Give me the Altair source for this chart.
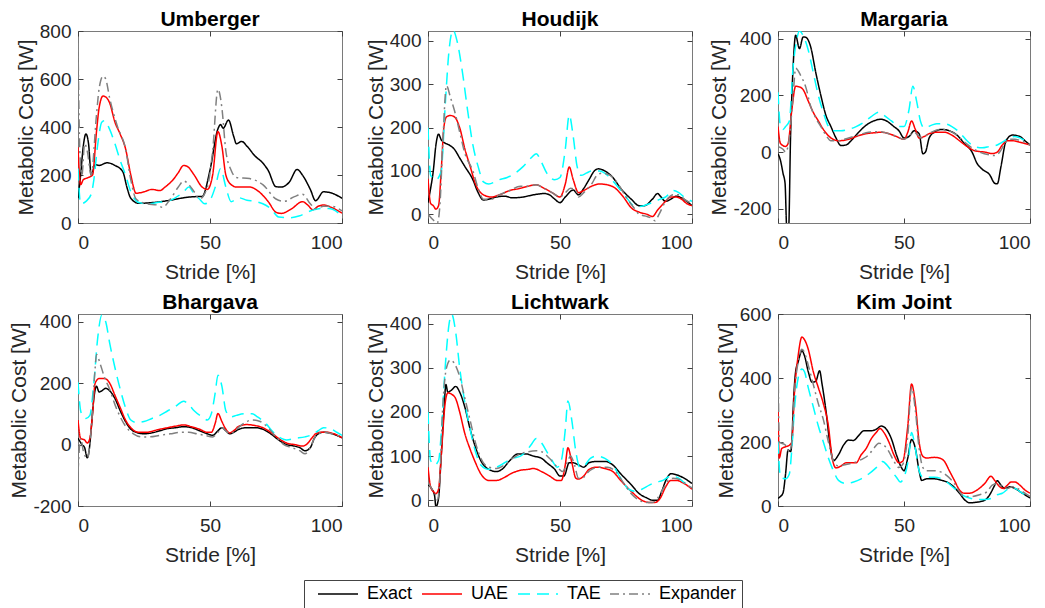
import altair as alt
import pandas as pd

SERIES = ["Exact", "UAE", "TAE", "Expander"]
COLORS = ["#000000", "#ff0000", "#00ffff", "#808080"]
DASHES = [[1, 0], [1, 0], [12, 7], [9, 4, 2, 4]]
X_TICKS = [0, 50, 100]

# ---------------- Umberger ----------------
UMBERGER_EXACT = [(0,103),(1,200),(2,320),(3,371),(4,330),(5,200),(6.5,243),(8,240),(11,251),(14,240),(17,213),(18.5,150),(20,103),(23,82),(28,85),(35,95),(40,105),(45,110),(47,110),(50,220),(53,392),(54,410),(55,395),(57,429),(59,360),(60,330),(62,340),(64,320),(67,280),(70,250),(72,220),(75,151),(77,150),(80,170),(83,223),(85,200),(88,140),(90,93),(93,130),(96,125),(100,103)]
UMBERGER_UAE = [(0,316),(1,160),(2,180),(4,190),(5.5,200),(7,380),(8,480),(9.5,529),(10.5,525),(12,500),(14,420),(16,370),(18,310),(20,200),(22,124),(25,130),(28,140),(31,135),(33,150),(36,180),(38,210),(40,240),(41.5,235),(44,200),(47,150),(49,140),(51,200),(53,381),(54.5,320),(56,200),(58,160),(60,150),(65,150),(68,135),(72,90),(75,45),(77,40),(81,60),(85,89),(87,75),(89,55),(91,70),(93,75),(96,65),(100,41)]
UMBERGER_TAE = [(0,227),(1,80),(3,90),(5,120),(6,180),(7.5,330),(9,420),(10,426),(12,390),(14,330),(16,260),(18,200),(20,130),(23,85),(27,80),(30,85),(35,95),(40,130),(42,150),(44,120),(46,100),(48,80),(50,95),(52,150),(54,227),(56,150),(58,89),(61,105),(64,95),(67,90),(70,80),(73,60),(76,25),(80,22),(84,30),(88,50),(92,60),(95,60),(100,30)]
UMBERGER_EXP = [(0,750),(0.7,300),(1.5,200),(2.5,330),(3.5,300),(5,200),(7,450),(8,560),(9.5,612),(10.5,600),(12,520),(15,400),(18,310),(20,180),(22,100),(26,80),(30,75),(32,65),(35,100),(38,150),(40,175),(42,160),(44,130),(46,100),(49,150),(51,300),(53,557),(54.5,480),(56,300),(58,220),(60,190),(65,185),(70,160),(75,100),(78,90),(82,110),(85,120),(88,80),(90,60),(93,70),(96,70),(100,50)]

# ---------------- Houdijk ----------------
HOUDIJK_EXACT = [(0,27),(1,60),(2,100),(3,160),(4,185),(5,172),(6,166),(8,160),(10,150),(12,130),(14,110),(17,80),(19,50),(21,33),(23,35),(26,40),(29,42),(32,38),(36,40),(40,45),(44,48),(46,45),(48,35),(50,27),(52,40),(55,56),(57,45),(59,60),(61,80),(63,100),(64.5,105),(67,100),(70,85),(73,60),(77,35),(80,20),(82,20),(85,35),(87,48),(88,42),(90,30),(92,35),(94,42),(96,38),(98,30),(100,20)]
HOUDIJK_UAE = [(0,82),(1,25),(2,20),(3,12),(4,20),(5,100),(6,200),(7,225),(8.5,228),(10,225),(12,200),(14,150),(16,110),(18,70),(21,45),(24,40),(27,45),(31,55),(35,60),(38,65),(41,68),(44,60),(47,50),(50,40),(52,70),(53.5,109),(55,80),(57,50),(59,55),(62,65),(65,70),(68,68),(71,60),(74,40),(77,15),(80,5),(83,0),(85,-5),(87,10),(90,30),(92,40),(94,40),(96,35),(98,25),(100,20)]
HOUDIJK_TAE = [(0,200),(1,90),(3,80),(5,100),(6.5,250),(8,380),(9.5,425),(11,400),(13,330),(15,240),(17,160),(19,110),(21,75),(23,70),(27,80),(30,85),(33,95),(36,110),(39,130),(41,140),(43,120),(45,95),(48,80),(50,85),(52,150),(53.5,229),(55,180),(56.5,110),(58,90),(60,95),(62,100),(65,100),(68,90),(71,70),(75,40),(78,20),(80,18),(84,25),(88,35),(90,40),(93,55),(95,50),(97,40),(100,30)]
HOUDIJK_EXP = [(0,0),(1.5,-10),(3.5,-20),(4.5,20),(5.5,150),(7,297),(8.5,270),(10,240),(12,190),(14,140),(17,100),(19,60),(21,35),(24,35),(27,45),(31,55),(35,65),(38,65),(41,68),(44,60),(47,50),(50,40),(52,50),(54,60),(56,55),(57,40),(59,50),(62,70),(64,90),(66,95),(69,90),(72,70),(75,40),(78,15),(80,0),(83,-5),(85,-10),(86,-15),(87.5,0),(90,30),(93,45),(95,45),(97,35),(100,25)]

# ---------------- Margaria ----------------
MARGARIA_EXACT = [(0,-6),(1,-30),(2,-75),(2.8,-110),(3.5,-270),(4.2,-270),(5,60),(6,301),(7,412),(8.5,365),(10,406),(11,405),(13,370),(15,280),(17,200),(19,130),(21,90),(23,50),(25,23),(27,25),(29,40),(32,70),(35,95),(38,110),(41,116),(43,110),(46,90),(48,75),(50,50),(52,55),(54,75),(56,65),(57.5,-6),(58.5,0),(60,50),(62,70),(65,80),(68,75),(71,60),(74,30),(77,0),(79,-40),(81,-60),(84,-80),(86,-110),(87,-112),(88.5,-50),(90.5,40),(93,60),(96,55),(98,40),(100,25)]
MARGARIA_UAE = [(0,90),(1,30),(3,20),(4,30),(5.5,150),(7,232),(8.5,230),(10,220),(12,180),(14,140),(16,110),(18,80),(21,50),(24,40),(28,45),(31,55),(35,65),(38,68),(41,70),(44,65),(47,55),(50,45),(51.5,70),(53,110),(54.5,80),(56,50),(58,55),(60,65),(63,70),(66,70),(69,60),(72,40),(75,20),(78,5),(82,0),(85,-5),(87,0),(89,25),(91,40),(93,40),(96,35),(100,25)]
MARGARIA_TAE = [(0,211),(1,90),(2,80),(3,90),(4.5,110),(6,300),(7.5,400),(8.5,427),(10,410),(12,360),(14,280),(16,200),(18,140),(20,90),(22,75),(25,75),(28,80),(31,90),(34,105),(37,125),(40,141),(42,130),(45,110),(48,90),(50,90),(52,150),(53.5,232),(55,180),(56.5,110),(58,85),(61,95),(63,100),(66,100),(69,90),(72,70),(75,40),(78,20),(81,15),(84,20),(87,25),(89,35),(92,50),(94,55),(96,50),(98,40),(100,30)]
MARGARIA_EXP = [(0,20),(2,10),(3,0),(4.5,50),(6,200),(7,296),(9,270),(11,230),(13,160),(15,120),(17,90),(19,60),(21,40),(24,40),(28,50),(32,60),(36,70),(40,72),(44,65),(47,55),(50,45),(52,55),(54,70),(55.5,60),(57,50),(59,60),(62,75),(65,80),(68,75),(71,60),(74,35),(77,15),(80,0),(84,-10),(86,-12),(88,0),(90,30),(92,45),(94,45),(97,38),(100,25)]

# ---------------- Bhargava ----------------
BHARGAVA_EXACT = [(0,21),(1.5,0),(2.5,-10),(3.5,-43),(4.2,-20),(5,50),(6,150),(7,190),(8,171),(9,175),(10.5,183),(12,175),(14,150),(16,110),(18,75),(20,50),(22,40),(25,35),(28,38),(31,45),(34,52),(37,55),(40,58),(43,55),(46,45),(49,35),(51,30),(53,45),(54.5,55),(56,45),(57.5,35),(59,40),(61,50),(64,55),(67,55),(70,50),(73,35),(76,15),(79,0),(82,-5),(84,-10),(86,-20),(88,-10),(89.5,20),(91,35),(93,40),(95,38),(98,30),(100,22)]
BHARGAVA_UAE = [(0,80),(1,20),(2.5,15),(3.5,5),(4.5,20),(5.5,100),(6.5,200),(8,215),(10,215),(12,200),(14,160),(16,120),(18,80),(20,55),(23,40),(26,40),(30,48),(34,55),(37,60),(40,64),(43,58),(46,50),(49,40),(50.5,40),(52,70),(53,101),(54.5,75),(56,50),(57.5,38),(59,45),(61,60),(64,65),(67,62),(70,55),(73,40),(76,20),(79,5),(82,0),(85,-5),(86.5,0),(88.5,20),(90,35),(92,40),(94,40),(97,35),(100,22)]
BHARGAVA_TAE = [(0,203),(1,110),(2,90),(3,85),(4.5,95),(6,200),(7.5,350),(9,421),(10.5,400),(12,330),(14,250),(16,180),(18,120),(20,80),(22,72),(25,75),(28,85),(31,95),(34,110),(37,125),(40,141),(42,130),(44,110),(47,90),(49,80),(50.5,100),(52,170),(53,226),(54.5,190),(56,110),(58,90),(60,95),(63,100),(66,100),(68,90),(71,70),(74,40),(77,20),(79,15),(82,20),(86,25),(88,30),(91,45),(93,55),(96,50),(98,40),(100,30)]
BHARGAVA_EXP = [(0,-90),(1,20),(2,-20),(3.5,-45),(5,50),(6.5,250),(7,293),(8.5,260),(10,220),(12,180),(14,130),(16,90),(18,60),(21,35),(24,25),(27,25),(31,30),(35,35),(39,40),(42,40),(45,35),(48,30),(51,25),(53,40),(54.5,55),(56,45),(57.5,35),(60,50),(63,70),(66,80),(69,75),(72,55),(75,25),(78,0),(81,-10),(84,-20),(86,-30),(88,-10),(89.5,20),(91,35),(93,40),(96,35),(100,25)]

# ---------------- Lichtwark ----------------
LICHTWARK_EXACT = [(0,35),(1.5,25),(2.5,10),(3,-15),(4,5),(5,100),(6,200),(6.8,262),(7.5,245),(9,250),(10.5,258),(12,245),(14,210),(16,160),(18,120),(20,90),(23,70),(26,65),(28,70),(31,90),(34,105),(37,105),(40,100),(43,95),(45,85),(48,70),(50,55),(51.5,55),(53.5,85),(55,85),(57,80),(59,75),(61,85),(64,88),(67,88),(70,80),(73,60),(77,35),(80,15),(83,5),(85,0),(87,0),(88.5,20),(90.5,50),(92,60),(94,58),(97,50),(100,38)]
LICHTWARK_UAE = [(0,75),(1,30),(2,20),(3,15),(4,25),(5,100),(6.5,220),(7.5,243),(9,240),(10.5,230),(12,200),(14,150),(16,115),(18,85),(20,60),(23,45),(26,45),(29,52),(32,62),(35,68),(38,70),(40,72),(43,65),(46,55),(49,45),(50.5,45),(52,80),(53,119),(54.5,85),(56,50),(57,48),(59,55),(61,70),(64,75),(67,72),(70,65),(73,45),(77,20),(81,0),(84,-5),(86,-5),(88,5),(90,30),(92,45),(94,45),(97,38),(100,25)]
LICHTWARK_TAE = [(0,200),(1,90),(2.5,80),(4,90),(5,150),(6.5,300),(8,400),(9,421),(10.5,380),(12,300),(14,220),(16,160),(18,110),(20,80),(23,70),(26,75),(29,85),(32,95),(35,100),(37,110),(39,125),(41,140),(43,130),(45,110),(47,90),(49,75),(50.5,90),(52,160),(53,225),(54.5,180),(56,110),(57.5,75),(59.5,80),(61.5,95),(64,100),(67,95),(70,80),(73,50),(76,25),(79,20),(81,25),(84,35),(86,40),(89,45),(92,55),(95,50),(97,40),(100,30)]
LICHTWARK_EXP = [(0,40),(1.5,25),(3,10),(3.5,0),(4.5,50),(5.5,200),(7,300),(8.5,318),(10,310),(12,280),(14,230),(16,180),(18,130),(20,95),(23,75),(26,72),(29,80),(32,95),(35,105),(38,110),(41,112),(43,110),(46,95),(49,75),(51,65),(53,90),(54,100),(55.5,80),(57,50),(58.5,50),(60,60),(62,70),(65,75),(68,75),(71,65),(74,40),(77,15),(80,0),(83,-5),(85,-5),(87,5),(89,25),(91,45),(93,50),(96,45),(98,35),(100,28)]

# ---------------- Kim Joint ----------------
KIM_EXACT = [(0,24),(1,30),(2,41),(3,100),(4,175),(5,170),(5.5,200),(6,300),(7,420),(8,450),(9.5,485),(10.5,470),(12,420),(13.5,387),(15,390),(16.5,423),(17.5,380),(19,300),(20.5,200),(22,142),(24,160),(26,190),(28,206),(30,205),(32,220),(34,235),(37,235),(39,240),(41,250),(43,240),(45,210),(47,160),(49,120),(50,110),(51.5,150),(53,208),(54.5,180),(56,110),(57,80),(59,85),(62,85),(65,80),(67,75),(69,65),(72,40),(74,20),(76,10),(79,12),(82,18),(84,35),(86,65),(87,79),(88.5,65),(90,55),(92,60),(94,55),(96,45),(98,35),(100,25)]
KIM_UAE = [(0,314),(0.5,150),(1.5,180),(3,185),(4.5,190),(5.5,200),(6.5,350),(8,470),(9.5,528),(10.5,520),(12,490),(14,420),(16,370),(18,320),(20,250),(21.5,150),(23,119),(25,125),(27,135),(29,135),(31,135),(33,160),(35,180),(37,210),(39,230),(40.5,242),(42,230),(44,200),(46,160),(48,135),(49.5,140),(51.5,250),(53,381),(54.5,320),(56,200),(57.5,155),(59,150),(62,152),(64,150),(66,140),(68,110),(70,80),(72,50),(74,40),(76,40),(79,50),(82,70),(84.5,93),(86,80),(88,60),(89.5,55),(91,65),(92.5,75),(94,75),(96,65),(98,50),(100,40)]
KIM_TAE = [(0,201),(1,90),(3,85),(4.5,100),(5.5,180),(6.5,300),(8,400),(9.5,428),(10.5,420),(12,370),(14,310),(16,250),(18,200),(20,150),(22,110),(24,80),(27,70),(30,75),(33,85),(36,100),(39,120),(41.5,139),(43,130),(45,110),(47,90),(48.5,75),(50,90),(52,160),(53,230),(54.5,180),(56,110),(57.5,90),(59,90),(62,90),(65,85),(67,75),(70,55),(73,35),(76,25),(79,20),(82,20),(85,25),(87,35),(89,40),(92,55),(94,55),(96,45),(98,35),(100,25)]
KIM_EXP = [(0,500),(0.5,200),(1.5,196),(3,190),(4.5,170),(5.5,200),(6.5,350),(8,450),(9.5,490),(10.5,480),(12,440),(14,380),(16,320),(18,270),(20,200),(22,140),(24,125),(27,130),(30,135),(33,145),(36,160),(38,180),(40,196),(42,190),(44,170),(46,140),(48,120),(49.5,130),(51.5,220),(53,371),(54.5,300),(56,180),(57.5,120),(59,110),(62,110),(65,105),(67,95),(70,70),(72,45),(74,30),(77,30),(80,35),(83,45),(85,65),(87,70),(89,60),(91,55),(93,60),(95,55),(97,45),(99,35),(100,30)]

PANELS = [
    ("Umberger", [0, 800], [0, 200, 400, 600, 800], [UMBERGER_EXACT, UMBERGER_UAE, UMBERGER_TAE, UMBERGER_EXP], 264),
    ("Houdijk", [-20, 423], [0, 100, 200, 300, 400], [HOUDIJK_EXACT, HOUDIJK_UAE, HOUDIJK_TAE, HOUDIJK_EXP], 264),
    ("Margaria", [-250, 427], [-200, 0, 200, 400], [MARGARIA_EXACT, MARGARIA_UAE, MARGARIA_TAE, MARGARIA_EXP], 252),
    ("Bhargava", [-200, 425], [-200, 0, 200, 400], [BHARGAVA_EXACT, BHARGAVA_UAE, BHARGAVA_TAE, BHARGAVA_EXP], 264),
    ("Lichtwark", [-13, 422], [0, 100, 200, 300, 400], [LICHTWARK_EXACT, LICHTWARK_UAE, LICHTWARK_TAE, LICHTWARK_EXP], 264),
    ("Kim Joint", [0, 600], [0, 200, 400, 600], [KIM_EXACT, KIM_UAE, KIM_TAE, KIM_EXP], 252),
]

H = 192
TXT = "#262626"
TICK = "#404040"
LEG = dict(orient="none", legendX=226, legendY=549, direction="horizontal", title=None,
           strokeColor="#444444", fillColor="white", padding=5, labelFontSize=18,
           labelColor="#000000", symbolType="M0,0H8", symbolSize=100, symbolStrokeWidth=1.5,
           columnPadding=0, labelOffset=40)


def panel(title, ydom, yticks, series, width):
    rows = []
    for name, pts in zip(SERIES, series):
        for x, y in pts:
            rows.append({"stride": x, "cost": y, "series": name})
    df = pd.DataFrame(rows)
    xs = alt.Scale(domain=[0, 100], nice=False, zero=False)
    ys = alt.Scale(domain=ydom, nice=False, zero=False)
    base = alt.Chart(df)
    lines = base.mark_line(strokeWidth=1.5, clip=True, interpolate="monotone").encode(
        x=alt.X("stride:Q", scale=xs, axis=alt.Axis(
            values=X_TICKS, title="Stride [%]", grid=False, domain=False, tickSize=5, offset=-5,
            tickColor=TICK, labelFontSize=19, titleFontSize=21, labelPadding=10, titlePadding=9,
            labelColor=TXT, titleColor=TXT, titleFontWeight="normal",
            labelExpr="toString(datum.value)")),
        y=alt.Y("cost:Q", scale=ys, axis=alt.Axis(
            values=yticks, title="Metabolic Cost [W]", grid=False, domain=False, tickSize=5, offset=-5,
            tickColor=TICK, labelFontSize=19, titleFontSize=21, labelPadding=7, titlePadding=3,
            labelColor=TXT, titleColor=TXT, titleFontWeight="normal",
            labelExpr="toString(datum.value)")),
        color=alt.Color("series:N", scale=alt.Scale(domain=SERIES, range=COLORS), legend=alt.Legend(**LEG)),
        strokeDash=alt.StrokeDash("series:N", scale=alt.Scale(domain=SERIES, range=DASHES), legend=alt.Legend(**LEG)),
    )
    ticks = base.mark_line(opacity=0).encode(
        x=alt.X("stride:Q", scale=xs, axis=alt.Axis(
            orient="top", values=X_TICKS, labels=False, title=None, grid=False, domain=False,
            tickSize=5, offset=-5, tickColor=TICK)),
        y=alt.Y("cost:Q", scale=ys, axis=alt.Axis(
            orient="right", values=yticks, labels=False, title=None, grid=False, domain=False,
            tickSize=5, offset=-5, tickColor=TICK)),
        detail="series:N",
    )
    head = alt.Chart(pd.DataFrame({"name": [title]})).mark_text(
        fontSize=21, fontWeight="bold", color="#000000", baseline="alphabetic", align="center"
    ).encode(text="name:N", x=alt.value(width / 2), y=alt.value(-5))
    return alt.layer(lines, ticks, head).resolve_axis(x="independent", y="independent").properties(
        width=width, height=H)


charts = [panel(*p) for p in PANELS]
chart = alt.concat(*charts, columns=3, spacing={"row": 91, "column": 86}, bounds="flush", align="each").configure(
    font="Liberation Sans", padding={"left": 0, "top": 0, "right": 0, "bottom": 0}
).configure_view(stroke="#7a7a7a", strokeWidth=1)

chart.save("out.html", embed_options={"renderer": "svg", "actions": False})
